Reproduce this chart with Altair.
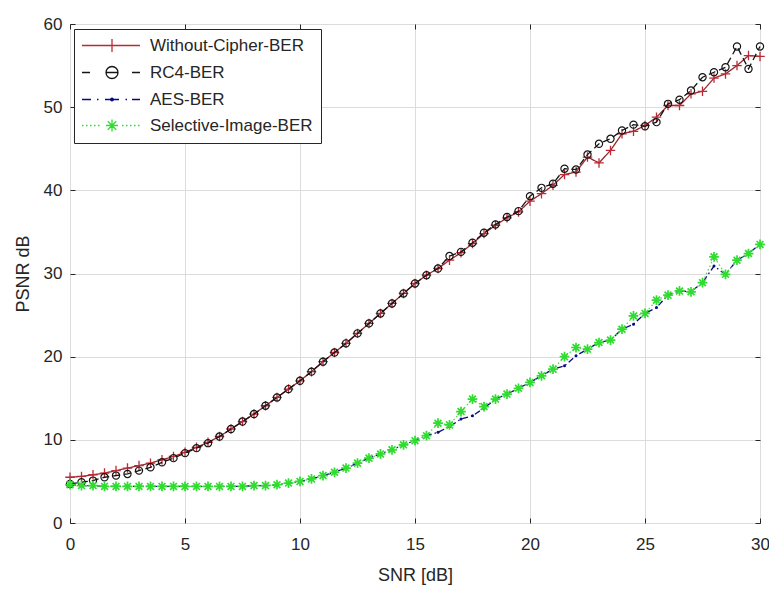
import altair as alt
import pandas as pd

# ---------------- data ----------------
snr = [0, 0.5, 1, 1.5, 2, 2.5, 3, 3.5, 4, 4.5, 5, 5.5, 6, 6.5, 7, 7.5, 8, 8.5, 9, 9.5,
       10, 10.5, 11, 11.5, 12, 12.5, 13, 13.5, 14, 14.5, 15, 15.5, 16, 16.5, 17, 17.5,
       18, 18.5, 19, 19.5, 20, 20.5, 21, 21.5, 22, 22.5, 23, 23.5, 24, 24.5, 25, 25.5,
       26, 26.5, 27, 27.5, 28, 28.5, 29, 29.5, 30]

without_cipher = [5.5, 5.6, 5.8, 6.0, 6.3, 6.6, 6.9, 7.2, 7.6, 8.0, 8.5, 9.1, 9.7, 10.4,
                  11.3, 12.2, 13.1, 14.1, 15.1, 16.1, 17.1, 18.2, 19.4, 20.5, 21.6, 22.8,
                  24.0, 25.2, 26.4, 27.6, 28.8, 29.8, 30.6, 31.6, 32.5, 33.6, 34.8, 35.8,
                  36.7, 37.4, 38.7, 39.6, 40.6, 41.9, 42.2, 44.0, 43.3, 44.8, 46.8, 47.1,
                  47.8, 48.8, 50.2, 50.2, 51.6, 51.9, 53.5, 54.0, 55.0, 56.2, 56.1]

rc4 = [4.7, 4.9, 5.1, 5.5, 5.7, 5.9, 6.3, 6.7, 7.3, 7.8, 8.4, 9.0, 9.6, 10.4, 11.3, 12.2,
       13.1, 14.1, 15.1, 16.1, 17.1, 18.2, 19.4, 20.5, 21.6, 22.8, 24.0, 25.2, 26.4, 27.6,
       28.8, 29.8, 30.6, 32.1, 32.6, 33.7, 34.9, 35.9, 36.8, 37.5, 39.3, 40.3, 40.8, 42.6,
       42.5, 44.3, 45.6, 46.2, 47.2, 47.9, 47.7, 48.2, 50.4, 50.9, 52.0, 53.6, 54.2, 54.8,
       57.3, 54.6, 57.3]

aes = [4.6, 4.5, 4.5, 4.4, 4.4, 4.4, 4.4, 4.4, 4.4, 4.4, 4.4, 4.4, 4.4, 4.4, 4.4, 4.4,
       4.5, 4.5, 4.6, 4.8, 5.0, 5.3, 5.7, 6.1, 6.6, 7.2, 7.8, 8.3, 8.8, 9.4, 9.9, 10.5,
       10.9, 11.6, 12.5, 12.9, 13.8, 14.9, 15.5, 16.2, 16.9, 17.7, 18.5, 18.9, 20.1, 20.9,
       21.7, 22.0, 23.3, 23.9, 25.2, 25.9, 27.4, 27.9, 27.8, 28.9, 30.9, 29.9, 31.6, 32.4,
       33.5]

selective = [4.6, 4.5, 4.5, 4.4, 4.4, 4.4, 4.4, 4.4, 4.4, 4.4, 4.4, 4.4, 4.4, 4.4, 4.4,
             4.4, 4.5, 4.5, 4.6, 4.8, 5.0, 5.3, 5.7, 6.1, 6.6, 7.2, 7.8, 8.3, 8.8, 9.4, 9.9,
             10.5, 12.0, 11.8, 13.4, 14.9, 14.0, 14.9, 15.5, 16.2, 16.9, 17.7, 18.5, 20.0,
             21.1, 20.9, 21.7, 22.0, 23.3, 24.9, 25.2, 26.8, 27.4, 27.9, 27.8, 28.9, 32.0,
             29.9, 31.6, 32.4, 33.5]

series_names = ["Without-Cipher-BER", "RC4-BER", "AES-BER", "Selective-Image-BER"]
series_values = [without_cipher, rc4, aes, selective]
x_ticks = [0, 5, 10, 15, 20, 25, 30]
y_ticks = [0, 10, 20, 30, 40, 50, 60]

# ---------------- styles ----------------
FONT = "Liberation Sans"
TXT = "#262626"
colors = ["#bb2a34", "#151515", "#0a0a80", "#2fdc2f"]
line_colors = ["#9a262e", "#151515", "#0a0a80", "#55d655"]
dashes = [[1, 0], [7, 4], [6, 3, 1.5, 3], [1.5, 2.5]]

PLUS = "M-1,0L1,0M0,-1L0,1"
STAR = "M-1,0L1,0M0,-1L0,1M-0.7,-0.7L0.7,0.7M-0.7,0.7L0.7,-0.7"


# legend symbols: line sample + marker, drawn as one custom path
def u(px):
    return f"{(px - 8.5) / 5:.2f}"


def hseg(a, b):
    return f"M{u(a)},0L{u(b)},0"


def circ(cx, r):
    rr = f"{r / 5:.2f}"
    return (f"M{u(cx - r)},0A{rr},{rr} 0 1,0 {u(cx + r)},0"
            f"A{rr},{rr} 0 1,0 {u(cx - r)},0")


def vseg(cx, h):
    return f"M{u(cx)},{-h / 5:.2f}L{u(cx)},{h / 5:.2f}"


def dseg(cx, h):
    a = f"{-h / 5:.2f}"
    b = f"{h / 5:.2f}"
    return f"M{u(cx - h)},{a}L{u(cx + h)},{b}M{u(cx - h)},{b}L{u(cx + h)},{a}"


C = 30
leg_red = hseg(0, 58) + vseg(C, 6.5)
leg_rc4 = hseg(0, 8) + hseg(24, 36) + hseg(50, 58) + circ(C, 6)
leg_aes = (hseg(0, 9) + hseg(15, 16.5) + hseg(23, 37) + hseg(43.5, 45) + hseg(50, 58)
           + circ(C, 1.3))
leg_sel = "".join(hseg(p, p + 1.5) for p in range(0, 58, 4) if not (20 <= p <= 38))
leg_sel += hseg(C - 6, C + 6) + vseg(C, 6) + dseg(C, 4.3)
legend_paths = [leg_red, leg_rc4, leg_aes, leg_sel]

# ---------------- data frames ----------------
frames = []
for name, vals in zip(series_names, series_values):
    frames.append(pd.DataFrame({"snr": snr, "psnr": vals, "series": name}))
df = pd.concat(frames, ignore_index=True)

xscale = alt.Scale(domain=[0, 30], nice=False, zero=False)
yscale = alt.Scale(domain=[0, 60], nice=False, zero=False)

axis_x_main = alt.Axis(orient="bottom", values=x_ticks, offset=-5, tickSize=5,
                       tickColor=TXT, tickWidth=1, domain=False, grid=True,
                       gridColor="#dcdcdc", gridWidth=1, labelFont=FONT,
                       labelFontSize=17, labelColor=TXT, labelPadding=13,
                       labelFlush=False, title="SNR [dB]", titleFont=FONT,
                       titleFontSize=18, titleFontWeight="normal", titleColor=TXT,
                       titlePadding=14)
axis_y_main = alt.Axis(orient="left", values=y_ticks, offset=-5, tickSize=5,
                       tickColor=TXT, tickWidth=1, domain=False, grid=True,
                       gridColor="#dcdcdc", gridWidth=1, labelFont=FONT,
                       labelFontSize=17, labelColor=TXT, labelPadding=8,
                       labelFlush=False, title="PSNR dB", titleFont=FONT,
                       titleFontSize=18, titleFontWeight="normal", titleColor=TXT,
                       titlePadding=11)
axis_x_top = alt.Axis(orient="top", values=x_ticks, offset=-5, tickSize=5,
                      tickColor=TXT, tickWidth=1, domain=False, grid=False,
                      labels=False, title=None)
axis_y_right = alt.Axis(orient="right", values=y_ticks, offset=-5, tickSize=5,
                        tickColor=TXT, tickWidth=1, domain=False, grid=False,
                        labels=False, title=None)

layers = []
for i, name in enumerate(series_names):
    base = alt.Chart(df).transform_filter(alt.datum.series == name)
    xa = axis_x_main if i == 0 else None
    ya = axis_y_main if i == 0 else None
    line = base.mark_line(color=line_colors[i], strokeWidth=1.3,
                          strokeDash=dashes[i]).encode(
        x=alt.X("snr:Q", scale=xscale, axis=xa),
        y=alt.Y("psnr:Q", scale=yscale, axis=ya),
    )
    if i == 0:
        pts = base.mark_point(shape=PLUS, filled=False, size=90, strokeWidth=1.3,
                              color=colors[i], opacity=1)
    elif i == 1:
        pts = base.mark_point(shape="circle", filled=False, size=52, strokeWidth=1.2,
                              color=colors[i], opacity=1)
    elif i == 2:
        pts = base.mark_point(shape="circle", filled=True, size=9, color=colors[i],
                              opacity=1)
    else:
        pts = base.mark_point(shape=STAR, filled=False, size=95, strokeWidth=1.7,
                              color=colors[i], opacity=1)
    pts = pts.encode(x=alt.X("snr:Q", scale=xscale, axis=None),
                     y=alt.Y("psnr:Q", scale=yscale, axis=None))
    layers += [line, pts]

leg_props = dict(orient="none", legendX=4, legendY=5, padding=8, title=None,
                 strokeColor=TXT, fillColor="white", labelFont=FONT,
                 labelFontSize=17, labelColor=TXT, labelOffset=51, labelLimit=400,
                 rowPadding=8, symbolSize=100, symbolStrokeWidth=1.3,
                 symbolOpacity=1, cornerRadius=0)

legend_layer = alt.Chart(df).transform_filter("datum.psnr < -1000").mark_point(
    filled=False).encode(
    x=alt.X("snr:Q", scale=xscale, axis=axis_x_top),
    y=alt.Y("psnr:Q", scale=yscale, axis=axis_y_right),
    color=alt.Color("series:N", scale=alt.Scale(domain=series_names, range=colors),
                    legend=alt.Legend(**leg_props)),
    shape=alt.Shape("series:N", scale=alt.Scale(domain=series_names,
                                                range=legend_paths),
                    legend=alt.Legend(**leg_props)),
)
layers.append(legend_layer)

chart = alt.layer(*layers).properties(
    width=690, height=499,
    padding={"left": 62, "top": 16, "right": 9, "bottom": 65},
    autosize=alt.AutoSizeParams(type="none"),
    background="white",
).configure_view(stroke=TXT, strokeWidth=1)

chart.save("out.html", embed_options={"renderer": "svg", "actions": False})
